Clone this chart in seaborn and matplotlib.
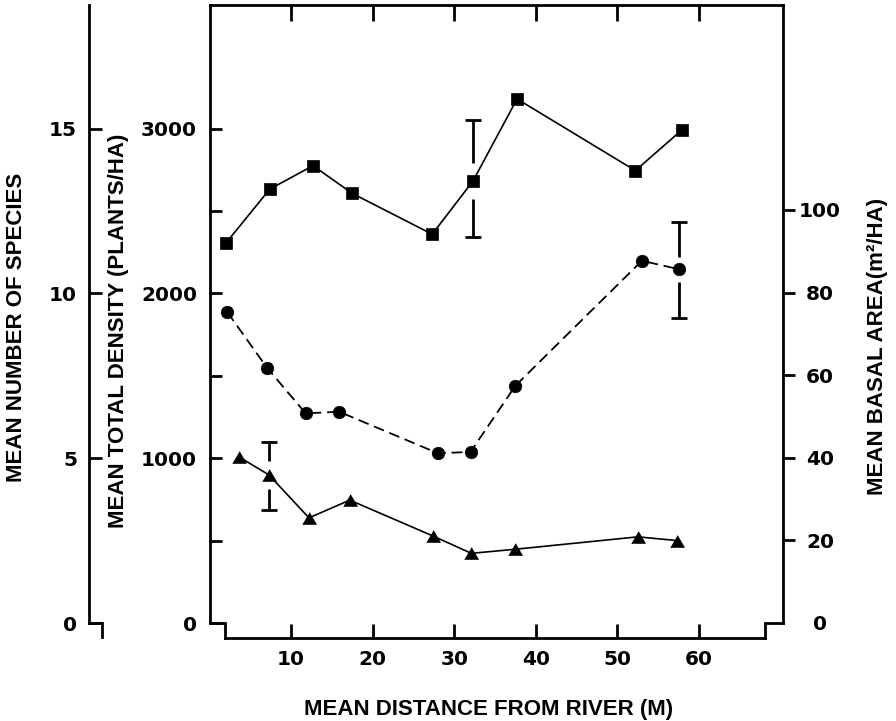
import matplotlib
matplotlib.use("Agg")
import matplotlib.pyplot as plt
import matplotlib.transforms as mtransforms
from matplotlib.markers import TICKUP, TICKDOWN
import numpy as np
import pandas as pd
import seaborn as sns

# ---------------- data ----------------
dens_x = [2.0, 7.4, 12.7, 17.5, 27.3, 32.3, 37.7, 52.2, 57.9]
dens_y = [2304, 2633, 2775, 2607, 2359, 2682, 3180, 2745, 2992]

spec_x = [2.2, 7.1, 11.8, 15.9, 28.0, 32.0, 37.5, 53.0, 57.6]
spec_y = [9.43, 7.73, 6.36, 6.41, 5.15, 5.19, 7.20, 10.99, 10.73]

basal_x = [3.6, 7.3, 12.2, 17.2, 27.4, 32.1, 37.5, 52.5, 57.3]
basal_y = [40.2, 35.8, 25.4, 29.7, 21.0, 16.8, 17.8, 20.8, 19.9]

# error bars: index of the point, (low, high)
dens_err_idx, dens_err = 5, (2344, 3052)
spec_err_idx, spec_err = 8, (9.24, 12.18)
basal_err_idx, basal_err = 1, (27.3, 43.9)

x_ticks = [10, 20, 30, 40, 50, 60]
dens_ticks = [0, 1000, 2000, 3000]
dens_minor = [500, 1500, 2500]
spec_ticks = [0, 5, 10, 15]
basal_ticks = [0, 20, 40, 60, 80, 100]

x_label = "MEAN DISTANCE FROM RIVER (M)"
dens_label = "MEAN TOTAL DENSITY (PLANTS/HA)"
spec_label = "MEAN NUMBER OF SPECIES"
basal_label = "MEAN BASAL AREA(m²/HA)"

# ---------------- style ----------------
sns.set_theme(style="white")
plt.rcParams["font.family"] = ["DejaVu Sans"]
plt.rcParams["font.weight"] = "bold"
for key in ("text.color", "axes.labelcolor", "xtick.color", "ytick.color",
            "axes.edgecolor"):
    plt.rcParams[key] = "black"
LABEL_FONT = dict(family=["Liberation Sans", "DejaVu Sans"], weight="bold", size=16,
                  color="black")
LW_SPINE = 2.0
TICK_FS = 14.5

fig = plt.figure(figsize=(8.96, 7.21), dpi=100)
fig.patch.set_facecolor("white")
ax = fig.add_axes([209.5 / 896, 83 / 721, 573.5 / 896, 633 / 721])
ax_r = ax.twinx()
ax_s = ax.twinx()
for a in (ax_r, ax_s):
    a.set_facecolor("none")

XLIM = (0.01, 70.29)
DLIM = (-91.0, 3750.0)
BLIM = (-3.71, 149.67)
SLIM = (-0.455, 18.75)
ax.set_xlim(*XLIM)
ax.set_ylim(*DLIM)
ax_r.set_ylim(*BLIM)
ax_s.set_ylim(*SLIM)

# ---------------- series ----------------
sns.lineplot(x=dens_x, y=dens_y, ax=ax, color="black", lw=1.2, marker="s",
             markersize=8, markeredgecolor="black", markeredgewidth=0.5,
             estimator=None, sort=False, zorder=3)
sns.lineplot(x=spec_x, y=spec_y, ax=ax_s, color="black", lw=1.3,
             linestyle=(0, (6, 3.2)), marker="o", markersize=9,
             markeredgecolor="black", markeredgewidth=0.5,
             estimator=None, sort=False, zorder=3)
tri = [(-1, -0.85), (1, -0.85), (0, 0.85)]
sns.lineplot(x=basal_x, y=basal_y, ax=ax_r, color="black", lw=1.2, marker=tri,
             markersize=10, markeredgecolor="black", markeredgewidth=0.5,
             estimator=None, sort=False, zorder=3)


def gapped_errorbar(axis, x, val, lo, hi, gap):
    axis.vlines([x, x], [val + gap, lo], [hi, val - gap], colors="black", lw=2.0)
    axis.plot([x, x], [lo, hi], ls="none", marker="_", ms=11, mew=2.0, color="black")


gapped_errorbar(ax, dens_x[dens_err_idx], dens_y[dens_err_idx], *dens_err, gap=109)
gapped_errorbar(ax_s, spec_x[spec_err_idx], spec_y[spec_err_idx], *spec_err, gap=0.38)
gapped_errorbar(ax_r, basal_x[basal_err_idx], basal_y[basal_err_idx], *basal_err, gap=3.4)

# ---------------- spines ----------------
X_LO, X_HI = 1.91, 68.09
for a in (ax, ax_r, ax_s):
    for s in a.spines.values():
        s.set_visible(False)
        s.set_linewidth(LW_SPINE)
        s.set_color("black")

ax.spines["top"].set_visible(True)
ax.spines["left"].set_visible(True)
ax.spines["left"].set_bounds(0, DLIM[1])
ax.spines["bottom"].set_visible(True)
ax.spines["bottom"].set_bounds(X_LO, X_HI)
ax_r.spines["right"].set_visible(True)
ax_r.spines["right"].set_bounds(0, BLIM[1])
OUTER = -0.2101
ax_s.spines["left"].set_visible(True)
ax_s.spines["left"].set_position(("axes", OUTER))
ax_s.spines["left"].set_bounds(0, SLIM[1])

# step "hooks" at the bottom of the axes
hook_kw = dict(color="black", lw=LW_SPINE, clip_on=False, solid_capstyle="projecting",
               solid_joinstyle="miter")
ax.plot([XLIM[0], X_LO, X_LO], [0, 0, DLIM[0]], **hook_kw)
ax.plot([X_HI, X_HI, XLIM[1]], [DLIM[0], 0, 0], **hook_kw)
btr = mtransforms.blended_transform_factory(ax_s.transAxes, ax_s.transData)
ax_s.plot([OUTER, OUTER + 13 / 573.5, OUTER + 13 / 573.5], [0, 0, SLIM[0] + 0.03],
          transform=btr, **hook_kw)

# ---------------- y ticks ----------------
ax.set_yticks(dens_ticks)
ax.set_yticks(dens_minor, minor=True)
ax.set_yticklabels([str(t) for t in dens_ticks])
ax.tick_params(axis="y", which="both", direction="in", left=True, right=False,
               length=8.6, width=LW_SPINE, pad=9, labelsize=TICK_FS, color="black",
               labelcolor="black")

ax_s.yaxis.set_ticks_position("left")
ax_s.yaxis.set_label_position("left")
ax_s.set_yticks(spec_ticks)
ax_s.set_yticklabels([str(t) for t in spec_ticks])
ax_s.tick_params(axis="y", direction="in", left=True, right=False, length=9.4,
                 width=LW_SPINE, pad=8.6, labelsize=TICK_FS, color="black",
                 labelcolor="black")

ax_r.set_yticks(basal_ticks)
ax_r.set_yticklabels([str(t) for t in basal_ticks])
ax_r.tick_params(axis="y", direction="out", right=True, left=False, length=8.6,
                 width=LW_SPINE, pad=18, labelsize=TICK_FS, color="black",
                 labelcolor="black")
for lab in ax_r.get_yticklabels():
    lab.set_horizontalalignment("center")
ax_r.yaxis.get_major_ticks()[0].tick2line.set_visible(False)

# ---------------- x ticks ----------------
ax.set_xticks(x_ticks)
ax.set_xticklabels([str(t) for t in x_ticks])
ax.tick_params(axis="x", which="major", direction="in", top=False, bottom=True,
               length=0, width=LW_SPINE, pad=8.6, labelsize=TICK_FS, color="black",
               labelcolor="black")
# tick marks on the top and bottom frame, drawn at the x_ticks positions
xtr = mtransforms.blended_transform_factory(ax_s.transData, ax_s.transAxes)
ax_s.plot(x_ticks, [0.0] * len(x_ticks), transform=xtr, ls="none", marker=TICKUP,
          ms=10, mew=LW_SPINE, color="black", clip_on=False, zorder=10)
ax_s.plot(x_ticks, [1.0] * len(x_ticks), transform=xtr, ls="none", marker=TICKDOWN,
          ms=11.5, mew=LW_SPINE, color="black", clip_on=False, zorder=10)

for a in (ax, ax_r, ax_s):
    for lab in a.get_xticklabels() + a.get_yticklabels():
        lab.set_fontweight("bold")
        lab.set_color("black")

# ---------------- labels ----------------
ax.set_xlabel(x_label, **LABEL_FONT)
ax.xaxis.set_label_coords(0.487, -0.1137)
ax.xaxis.label.set_va("center")
ax.set_ylabel(dens_label, **LABEL_FONT)
ax.yaxis.set_label_coords(-0.158, 0.485)
ax.yaxis.label.set_va("center")
ax_s.set_ylabel(spec_label, **LABEL_FONT)
ax_s.yaxis.set_label_coords(-0.336, 0.49)
ax_s.yaxis.label.set_va("center")
ax_r.set_ylabel(basal_label, **LABEL_FONT)
ax_r.yaxis.set_label_coords(1.164, 0.46)
ax_r.yaxis.label.set_va("center")
ax_r.yaxis.label.set_rotation(90)

fig.savefig("out.png", dpi=100, facecolor="white")
